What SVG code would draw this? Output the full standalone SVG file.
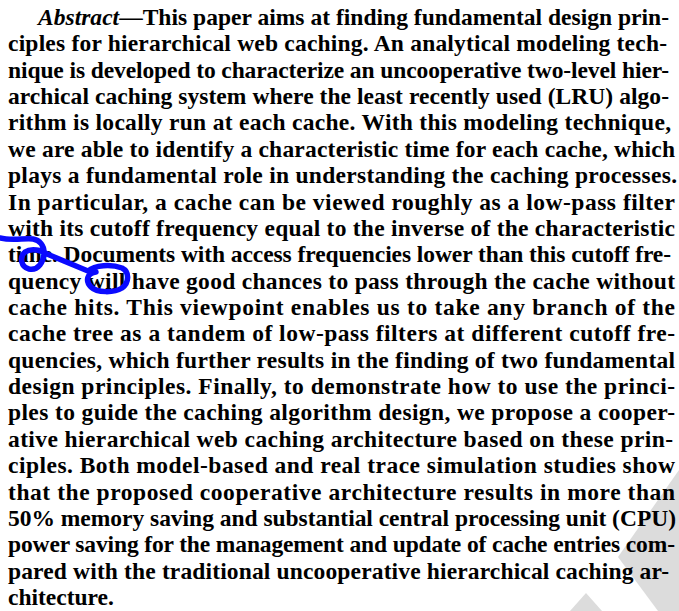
<svg xmlns="http://www.w3.org/2000/svg" width="679" height="611" viewBox="0 0 679 611">
<style>
.t{font-family:"Liberation Serif","Times New Roman",serif;font-weight:bold;font-size:23.5px;fill:#000}
.wm{fill:#dcdcdc}
.ink{fill:none;stroke:#0a0aff;stroke-width:5.5;stroke-linecap:round;stroke-linejoin:round}
</style>
<rect width="679" height="611" fill="#ffffff"/>
<g id="watermark">
<polygon class="wm" points="679,470 618,557 658,611 679,611"/>
<polygon class="wm" points="570,611 586,593 602,611"/>
</g>
<g id="abstract-text">
<text class="t" x="38" y="25" textLength="631" lengthAdjust="spacing"><tspan font-style="italic">Abstract</tspan>—This paper aims at finding fundamental design prin-</text>
<text class="t" x="8" y="51.4" textLength="659" lengthAdjust="spacing">ciples for hierarchical web caching. An analytical modeling tech-</text>
<text class="t" x="8" y="77.7" textLength="661" lengthAdjust="spacing">nique is developed to characterize an uncooperative two-level hier-</text>
<text class="t" x="8" y="104.1" textLength="661" lengthAdjust="spacing">archical caching system where the least recently used (LRU) algo-</text>
<text class="t" x="8" y="130.4" textLength="663" lengthAdjust="spacing">rithm is locally run at each cache. With this modeling technique,</text>
<text class="t" x="8" y="156.8" textLength="667" lengthAdjust="spacing">we are able to identify a characteristic time for each cache, which</text>
<text class="t" x="8" y="183.2" textLength="669" lengthAdjust="spacing">plays a fundamental role in understanding the caching processes.</text>
<text class="t" x="8" y="209.5" textLength="667" lengthAdjust="spacing">In particular, a cache can be viewed roughly as a low-pass filter</text>
<text class="t" x="8" y="235.9" textLength="667" lengthAdjust="spacing">with its cutoff frequency equal to the inverse of the characteristic</text>
<text class="t" x="8" y="262.2" textLength="663" lengthAdjust="spacing">time. Documents with access frequencies lower than this cutoff fre-</text>
<text class="t" x="8" y="288.6" textLength="667" lengthAdjust="spacing">quency will have good chances to pass through the cache without</text>
<text class="t" x="8" y="315" textLength="667" lengthAdjust="spacing">cache hits. This viewpoint enables us to take any branch of the</text>
<text class="t" x="8" y="341.3" textLength="667" lengthAdjust="spacing">cache tree as a tandem of low-pass filters at different cutoff fre-</text>
<text class="t" x="8" y="367.7" textLength="667" lengthAdjust="spacing">quencies, which further results in the finding of two fundamental</text>
<text class="t" x="8" y="394" textLength="667" lengthAdjust="spacing">design principles. Finally, to demonstrate how to use the princi-</text>
<text class="t" x="8" y="420.4" textLength="667" lengthAdjust="spacing">ples to guide the caching algorithm design, we propose a cooper-</text>
<text class="t" x="8" y="446.8" textLength="665" lengthAdjust="spacing">ative hierarchical web caching architecture based on these prin-</text>
<text class="t" x="8" y="473.1" textLength="667" lengthAdjust="spacing">ciples. Both model-based and real trace simulation studies show</text>
<text class="t" x="8" y="499.5" textLength="667" lengthAdjust="spacing">that the proposed cooperative architecture results in more than</text>
<text class="t" x="8" y="525.8" textLength="668" lengthAdjust="spacing">50% memory saving and substantial central processing unit (CPU)</text>
<text class="t" x="8" y="552.2" textLength="667" lengthAdjust="spacing">power saving for the management and update of cache entries com-</text>
<text class="t" x="8" y="578.6" textLength="661" lengthAdjust="spacing">pared with the traditional uncooperative hierarchical caching ar-</text>
<text class="t" x="8" y="604.9">chitecture.</text>
</g>
<g id="scribble">
<path class="ink" d="M0,238 C12,241 24,238 33,239 C40,240 44,246 44,252 C44,262 38,271 29,269 C21,267 19,257 25,252 C31,248 42,250 47,254 L88,271 C95,265 111,264 122,268 C130,272 129,283 122,288 C114,293 97,293 91,287 C85,281 87,273 96,272"/>
</g>
</svg>
